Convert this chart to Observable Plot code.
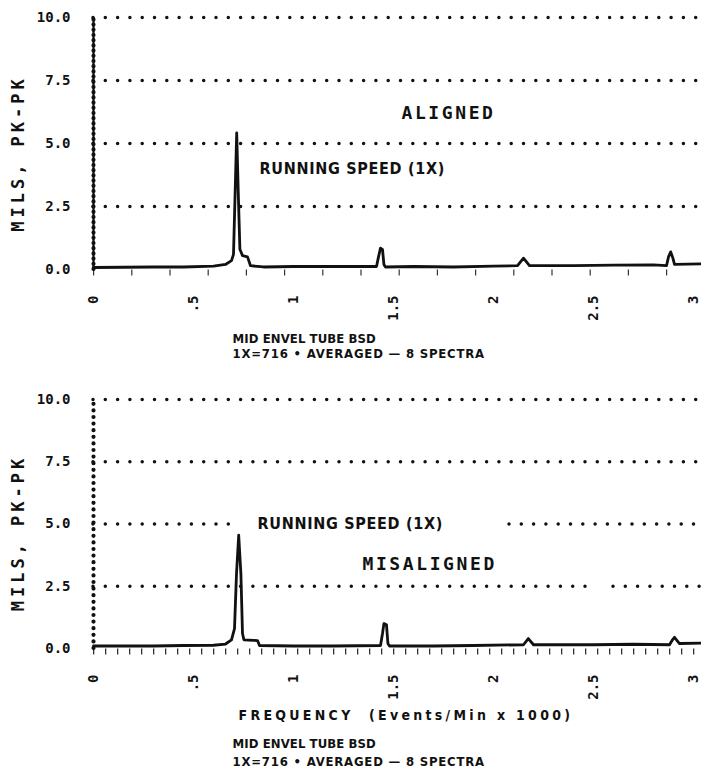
<!DOCTYPE html>
<html><head><meta charset="utf-8">
<script src="https://cdn.jsdelivr.net/npm/d3@7"></script>
<script src="https://cdn.jsdelivr.net/npm/@observablehq/plot@0.6"></script>
<style>
body{margin:0;background:#fff;}
#chart{width:701px;}
#chart svg{display:block;}
#chart text{white-space:pre;}
</style></head><body><div id="chart"></div>
<script>
// ---- data ----
const xTicks = [0, 0.5, 1, 1.5, 2, 2.5, 3];
const xTickLabels = ["0", ".5", "1", "1.5", "2", "2.5", "3"];
const yTicks = [0, 2.5, 5, 7.5, 10];
const yTickLabels = ["0.0", "2.5", "5.0", "7.5", "10.0"];

const alignedFreq = [0, 0.15, 0.3, 0.45, 0.6, 0.66, 0.69, 0.70, 0.708, 0.716, 0.724, 0.732, 0.745, 0.77, 0.785, 0.85, 1.0, 1.2, 1.415, 1.425, 1.435, 1.445, 1.452, 1.46, 1.6, 1.8, 2.0, 2.12, 2.15, 2.18, 2.4, 2.6, 2.8, 2.865, 2.875, 2.886, 2.897, 2.905, 3.04];
const alignedAmp  = [0.08, 0.09, 0.1, 0.1, 0.13, 0.2, 0.35, 0.6, 3.0, 5.42, 3.0, 0.8, 0.55, 0.5, 0.15, 0.1, 0.12, 0.12, 0.12, 0.5, 0.85, 0.8, 0.2, 0.1, 0.12, 0.1, 0.13, 0.15, 0.45, 0.15, 0.15, 0.17, 0.18, 0.15, 0.5, 0.7, 0.45, 0.2, 0.22];

const misalignedFreq = [0, 0.15, 0.3, 0.45, 0.6, 0.66, 0.69, 0.705, 0.715, 0.726, 0.737, 0.745, 0.752, 0.8, 0.82, 0.83, 1.0, 1.2, 1.435, 1.445, 1.452, 1.465, 1.472, 1.48, 1.7, 1.9, 2.15, 2.174, 2.2, 2.5, 2.7, 2.88, 2.895, 2.905, 2.915, 2.93, 3.04];
const misalignedAmp  = [0.1, 0.1, 0.1, 0.12, 0.13, 0.18, 0.35, 0.8, 3.0, 4.55, 3.0, 0.6, 0.35, 0.33, 0.32, 0.12, 0.1, 0.1, 0.12, 0.6, 1.0, 0.95, 0.2, 0.1, 0.1, 0.12, 0.15, 0.4, 0.15, 0.15, 0.17, 0.15, 0.35, 0.45, 0.35, 0.2, 0.22];

const panelTitles = ["ALIGNED", "MISALIGNED"];
const peakLabel = "RUNNING SPEED (1X)";
const yLabel = "MILS, PK-PK";
const xLabel = "FREQUENCY  (Events/Min x 1000)";
const captionLines = ["MID ENVEL TUBE BSD", "1X=716 \u2022 AVERAGED \u2014 8 SPECTRA"];

// ---- styles ----
const INK = "#111";
const MONO = "'DejaVu Sans Mono', 'Liberation Mono', monospace";
const SANS = "'Liberation Sans Narrow', 'DejaVu Sans Condensed', 'Liberation Sans', sans-serif";
const xDomain = [0, 3.04];
const letterSpacing = new Map([
  [yLabel, 4], [panelTitles[0], 2.6], [panelTitles[1], 2.6], [peakLabel, 0.7],
  [xLabel, 3.3], [captionLines[0], 0.1], [captionLines[1], 0.8]
]);

function rows(fr, am) { return fr.map((f, i) => ({f, a: am[i]})); }

function panel(o) {
  const gridMarks = o.gridSegs.map(s => Plot.ruleY([s[0]], {
    x1: s[1], x2: s[2], stroke: INK, strokeWidth: 3.5, strokeLinecap: "round", strokeDasharray: "0,12.3"
  }));
  const captionMarks = captionLines.map((c, i) => Plot.text([c], {frameAnchor: "bottom-left", dx: 139,
    dy: o.capDy + i * o.capGap, textAnchor: "start", fontSize: 13, fontWeight: "bold", fontFamily: SANS}));
  const svg = Plot.plot({
    width: 701, height: o.height, marginTop: o.marginTop, marginBottom: o.marginBottom,
    marginLeft: 93, marginRight: 0,
    style: {background: "#fff", color: INK, fontFamily: SANS},
    x: {domain: xDomain, axis: null},
    y: {domain: [0, 10], axis: null},
    marks: [
      ...gridMarks,
      Plot.ruleX([0], {y1: 0, y2: 10, stroke: INK, strokeWidth: o.axisSolid ? 2.2 : 0}),
      Plot.ruleX([0], {y1: 0, y2: 10, stroke: INK, strokeWidth: 4.2, strokeLinecap: "round", strokeDasharray: o.axisDots}),
      Plot.ruleY([0], {stroke: INK, strokeWidth: 6, strokeDasharray: o.comb, dy: 3, strokeOpacity: 0.85}),
      Plot.axisY(yTicks, {
        tickSize: 0, tickPadding: 23, label: null,
        tickFormat: d => yTickLabels[yTicks.indexOf(d)],
        fontSize: 14, fontWeight: "bold", fontFamily: MONO
      }),
      Plot.axisX(xTicks, {
        tickSize: 0, tickPadding: o.xPad, label: null, tickRotate: -90,
        tickFormat: d => xTickLabels[xTicks.indexOf(d)],
        fontSize: 14, fontWeight: "bold", fontFamily: MONO
      }),
      Plot.text([yLabel], {frameAnchor: "left", textAnchor: "middle", dx: -75, dy: o.yLabelDy, rotate: -90, fontSize: 17,
        fontWeight: "bold", fontFamily: MONO}),
      Plot.line(rows(o.freq, o.amp), {x: "f", y: "a", stroke: INK, strokeWidth: 2.8, strokeLinejoin: "round"}),
      Plot.text([o.title], {x: o.titleAt[0], y: o.titleAt[1], textAnchor: "start", fontSize: 18,
        fontWeight: "bold", fontFamily: MONO}),
      Plot.text([peakLabel], {x: o.peakAt[0], y: o.peakAt[1], textAnchor: "start", fontSize: 16,
        fontWeight: "bold", fontFamily: SANS}),
      ...(o.showXLabel ? [Plot.text([xLabel], {frameAnchor: "bottom-left", dx: 145, dy: o.xLabelDy,
        textAnchor: "start", fontSize: 14, fontWeight: "bold", fontFamily: SANS})] : []),
      ...captionMarks
    ]
  });
  // letter spacing for the wide typewriter-style labels
  d3.select(svg).selectAll("text").each(function () {
    const ls = letterSpacing.get(this.textContent);
    if (ls != null) this.style.letterSpacing = ls + "px";
  });
  return svg;
}

const topPanel = panel({
  freq: alignedFreq, amp: alignedAmp, height: 372, marginTop: 17, marginBottom: 103,
  gridSegs: [[2.5, 0, 3.04], [5, 0, 3.04], [7.5, 0, 3.04], [10, 0, 3.04]],
  axisSolid: true, axisDots: "0,5.2", comb: "1.2,37", xPad: 26, yLabelDy: 10,
  title: panelTitles[0], titleAt: [1.54, 6.2], peakAt: [0.83, 4.0],
  showXLabel: false, capDy: 73, capGap: 15
});
const bottomPanel = panel({
  freq: misalignedFreq, amp: misalignedAmp, height: 404, marginTop: 27, marginBottom: 128,
  gridSegs: [[2.5, 0, 2.48], [2.5, 2.6, 3.04], [5, 0, 0.72], [5, 2.08, 3.04], [7.5, 0, 3.04], [10, 0, 3.04]],
  axisSolid: false, axisDots: "0,6.6", comb: "1.3,10.7", xPad: 26, yLabelDy: 9,
  title: panelTitles[1], titleAt: [1.345, 3.4], peakAt: [0.82, 5.0],
  showXLabel: true, xLabelDy: 71, capDy: 99, capGap: 18
});
document.getElementById("chart").append(topPanel, bottomPanel);
</script></body></html>
